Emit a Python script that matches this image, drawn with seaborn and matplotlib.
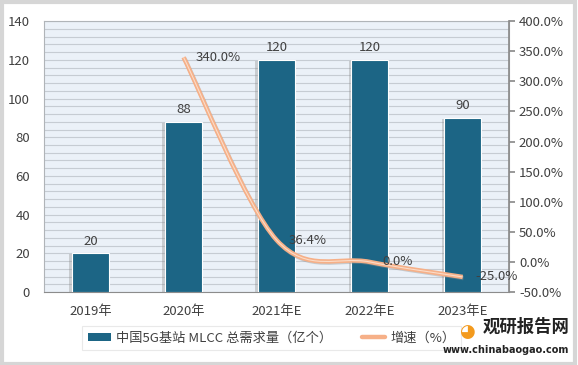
import numpy as np
import pandas as pd
import matplotlib.pyplot as plt
import seaborn as sns
from matplotlib.path import Path
from matplotlib.patches import PathPatch, Rectangle
from matplotlib.lines import Line2D
import matplotlib.patheffects as pe

# data
years = ['2019年', '2020年', '2021年E', '2022年E', '2023年E']
demand = [20, 88, 120, 120, 90]              # 亿个
growth = [np.nan, 340.0, 36.4, 0.0, -25.0]   # %

bar_name = '中国5G基站 MLCC 总需求量（亿个）'
line_name = '增速（%）'

BAR_C = '#1C6585'
LINE_C = '#F6B088'
BG_C = '#EBF1F8'
GRID_C = '#C6CCD3'
TXT_C = '#404040'

sns.set_theme(style='white')
plt.rcParams['font.family'] = ['Noto Sans CJK SC', 'DejaVu Sans']
plt.rcParams['axes.unicode_minus'] = False

fig = plt.figure(figsize=(5.78, 3.65), dpi=100)
ax = fig.add_axes([0.076, 0.2, 0.805, 0.742])
ax.set_facecolor(BG_C)

df = pd.DataFrame({'year': years, 'demand': demand, 'growth': growth})

sns.barplot(data=df, x='year', y='demand', color=BAR_C, width=0.4,
            saturation=1, edgecolor='white', linewidth=0.8, ax=ax, zorder=3)
for p in ax.patches:
    p.set_path_effects([pe.SimplePatchShadow(offset=(-1.8, -0.6), shadow_rgbFace='#8A8A8A', alpha=0.35),
                        pe.Normal()])

ax.set_ylim(0, 140)
ax.set_xlim(-0.5, len(years) - 0.5)
ax.set_yticks(np.arange(0, 141, 20))
ax.set_yticks(np.arange(0, 141, 4), minor=True)
ax.grid(axis='y', which='both', color=GRID_C, lw=0.8, zorder=0)
ax.set_axisbelow(True)
ax.set_xlabel('')
ax.set_ylabel('')
ax.tick_params(axis='y', which='both', length=0, labelsize=9.5, labelcolor=TXT_C, pad=10)
ax.tick_params(axis='x', length=0, labelsize=9.5, labelcolor=TXT_C, pad=9)
for s in ax.spines.values():
    s.set_color('#B0B4B8')
    s.set_linewidth(0.8)
ax.spines['bottom'].set_color('#8C8C8C')

for i, v in enumerate(demand):
    ax.text(i, v + 3, f'{v}', ha='center', va='bottom', fontsize=9.5, color=TXT_C, zorder=5)

# growth rate on right axis, smoothed like Excel
ax2 = ax.twinx()
ax2.set_ylim(-50, 400)
ax2.set_yticks(np.arange(-50, 401, 50))
ax2.set_yticklabels([f'{t:.1f}%' for t in np.arange(-50, 401, 50)])
ax2.tick_params(axis='y', length=4, color='#8C8C8C', labelsize=9.5, labelcolor=TXT_C, pad=3)
for s in ax2.spines.values():
    s.set_visible(False)
ax2.spines['right'].set_visible(True)
ax2.spines['right'].set_color('#8C8C8C')
ax2.grid(False)

pts = [(i, g) for i, g in enumerate(growth) if not np.isnan(g)]
P = np.array(pts, dtype=float)
verts = [tuple(P[0])]
codes = [Path.MOVETO]
n = len(P)
for k in range(n - 1):
    p_prev = P[k - 1] if k > 0 else P[k]
    p_next2 = P[k + 2] if k + 2 < n else P[k + 1]
    c1 = P[k] + (P[k + 1] - p_prev) / 6
    c2 = P[k + 1] - (p_next2 - P[k]) / 6
    verts += [tuple(c1), tuple(c2), tuple(P[k + 1])]
    codes += [Path.CURVE4] * 3
path = Path(verts, codes)
ax2.add_patch(PathPatch(path, facecolor='none', edgecolor=LINE_C, lw=3.2, zorder=4,
                        path_effects=[pe.SimpleLineShadow(offset=(0.6, -0.8), shadow_color='#909090', alpha=0.4),
                                      pe.Normal()]))
ax2.add_patch(PathPatch(path, facecolor='none', edgecolor='#FBDCC8', lw=0.8, zorder=4))

for i, g in pts:
    ax2.annotate(f'{g:.1f}%', (i, g), xytext=(9, 0), textcoords='offset points',
                 ha='left', va='center', fontsize=9.5, color=TXT_C, zorder=6)

# legend
handles = [Rectangle((0, 0), 1, 1, facecolor=BAR_C, edgecolor='none'),
           Line2D([0], [0], color=LINE_C, lw=3.2)]
leg = fig.legend(handles, [bar_name, line_name], loc='center', bbox_to_anchor=(0.47, 0.074),
                 ncol=2, frameon=True, fontsize=9.5, handlelength=1.7, handleheight=0.55,
                 handletextpad=0.4, columnspacing=2.3, borderpad=0.45, borderaxespad=0,
                 fancybox=False, shadow=False)
leg.get_frame().set_edgecolor('#E4E4E4')
leg.get_frame().set_linewidth(0.8)
for t in leg.get_texts():
    t.set_color(TXT_C)

# watermark
fig.text(0.985, 0.105, '观研报告网', ha='right', va='center', fontsize=12.5,
         fontweight='bold', color='#222222', zorder=10)
fig.text(0.985, 0.04, 'www.chinabaogao.com', ha='right', va='center', fontsize=7,
         fontweight='bold', color='#222222', family=['DejaVu Sans'], zorder=10)
fig.text(0.808, 0.09, '◕', ha='center', va='center', fontsize=13, color='#F39A1E',
         family=['DejaVu Sans'], zorder=10)

# outer frame
fig.patches.append(Rectangle((0.003, 0.004), 0.992, 0.99, transform=fig.transFigure,
                             facecolor='none', edgecolor='#D6D6D6', lw=3))

fig.savefig('out.png', dpi=100)
